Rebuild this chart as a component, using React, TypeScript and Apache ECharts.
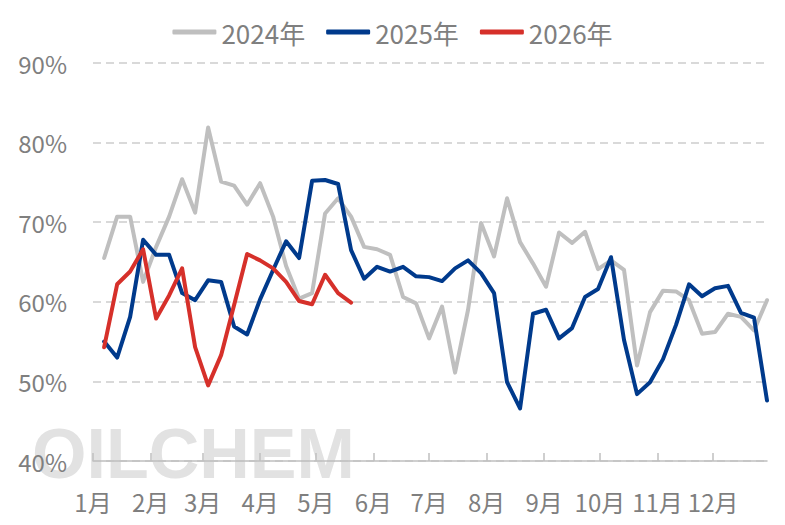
import React, { useEffect, useRef } from "react";
import * as echarts from "echarts";

const seriesNames = ["2024年", "2025年", "2026年"];
const yTicks = [40, 50, 60, 70, 80, 90];
const monthLabels = ["1月", "2月", "3月", "4月", "5月", "6月", "7月", "8月", "9月", "10月", "11月", "12月"];

// weekly observation dates (plotted on a common Jan–Dec axis)
const firstWeek = "2026-01-07";
const weekCount = 52;

const values2024 = [
  65.5, 70.7, 70.7, 62.5, 66.9, 70.7, 75.4, 71.2, 81.9, 75.1, 74.6, 72.2, 74.9,
  70.7, 64.5, 60.4, 61.1, 71.1, 73.0, 70.7, 66.9, 66.6, 65.9, 60.6, 59.8, 55.4,
  59.4, 51.1, 59.0, 69.9, 65.7, 73.0, 67.5, 64.8, 61.9, 68.7, 67.4, 68.8, 64.1,
  65.2, 64.0, 52.0, 58.7, 61.4, 61.3, 60.2, 56.0, 56.2, 58.5, 58.1, 56.4, 60.2,
];
const values2025 = [
  55.0, 53.0, 58.1, 67.8, 65.9, 65.9, 61.1, 60.2, 62.7, 62.5, 56.9, 55.9, 60.3,
  64.0, 67.6, 65.5, 75.2, 75.3, 74.8, 66.5, 62.9, 64.4, 63.8, 64.4, 63.2, 63.1,
  62.6, 64.2, 65.2, 63.6, 61.1, 49.9, 46.6, 58.5, 59.0, 55.4, 56.7, 60.6, 61.6,
  65.6, 55.2, 48.4, 49.9, 52.8, 57.1, 62.2, 60.7, 61.7, 62.0, 58.6, 58.0, 47.6,
];
const values2026 = [
  54.3, 62.2, 63.8, 66.6, 57.9, 60.8, 64.2, 54.3, 49.5, 53.3, 59.6, 66.0, 65.2,
  64.2, 62.5, 60.1, 59.7, 63.4, 61.1, 59.9,
];
const colors = ["#bfbfbf", "#003a8c", "#d6302a"];

const DAY = 86400000;

// day-of-year of each weekly observation
function buildWeekDays(): number[] {
  const [y, m, d] = firstWeek.split("-").map(Number);
  const jan1 = new Date(y, 0, 1).getTime();
  const out: number[] = [];
  for (let i = 0; i < weekCount; i++) {
    out.push(Math.round((new Date(y, m - 1, d + 7 * i).getTime() - jan1) / DAY));
  }
  return out;
}

export default function App() {
  const ref = useRef<HTMLDivElement>(null);
  useEffect(() => {
    if (!ref.current) return;
    const chart = echarts.init(ref.current, undefined, { renderer: "svg" });
    const [y] = firstWeek.split("-").map(Number);
    const jan1 = new Date(y, 0, 1).getTime();
    const weekDays = buildWeekDays();
    const monthStarts = monthLabels.map((_, i) => Math.round((new Date(y, i, 1).getTime() - jan1) / DAY));
    const font = "'Noto Sans CJK SC', 'Noto Sans', sans-serif";
    const allValues = [values2024, values2025, values2026];
    chart.setOption({
      animation: false,
      color: colors,
      textStyle: { fontFamily: font },
      grid: { left: 93, right: 18, top: 63, bottom: 64, outerBoundsMode: "none" },
      legend: {
        top: 14,
        left: "center",
        itemWidth: 44,
        itemHeight: 5,
        itemGap: 21,
        icon: "roundRect",
        textStyle: { fontSize: 26, color: "#7f7f7f", fontFamily: font },
        data: seriesNames,
      },
      graphic: [
        {
          type: "text",
          left: 32,
          top: 419,
          z: -10,
          silent: true,
          style: {
            text: "OILCHEM",
            fontSize: 70,
            lineHeight: 60,
            fontWeight: "bold",
            fontFamily: "'Liberation Sans', Arial, sans-serif",
            fill: "#e2e2e2",
          },
        },
      ],
      xAxis: {
        type: "value",
        min: 0,
        max: weekDays[weekDays.length - 1],
        axisLine: { show: true, lineStyle: { color: "#bfbfbf", width: 1.5 } },
        axisTick: { show: true, inside: true, length: 8, customValues: monthStarts, lineStyle: { color: "#bfbfbf", width: 1.5 } },
        axisLabel: {
          customValues: monthStarts,
          fontSize: 24,
          color: "#7f7f7f",
          margin: 28,
          formatter: (v: number) => monthLabels[monthStarts.indexOf(Math.round(v))] ?? "",
        },
        splitLine: { show: false },
      },
      yAxis: {
        type: "value",
        min: yTicks[0],
        max: yTicks[yTicks.length - 1],
        interval: 10,
        axisLine: { show: false },
        axisTick: { show: false },
        axisLabel: { fontSize: 24, color: "#7f7f7f", margin: 26, formatter: "{value}%" },
        splitLine: { lineStyle: { color: "#d9d9d9", width: 2, type: [8, 5] } },
      },
      series: seriesNames.map((name, k) => ({
        name,
        type: "line",
        showSymbol: false,
        symbol: "none",
        lineStyle: { width: 4, color: colors[k], cap: "round", join: "round" },
        itemStyle: { color: colors[k] },
        z: 2 + k,
        data: allValues[k].map((v, i) => [weekDays[i], v]),
      })),
    });
    return () => chart.dispose();
  }, []);
  return <div ref={ref} style={{ width: 785, height: 525, margin: -8 }} />;
}
